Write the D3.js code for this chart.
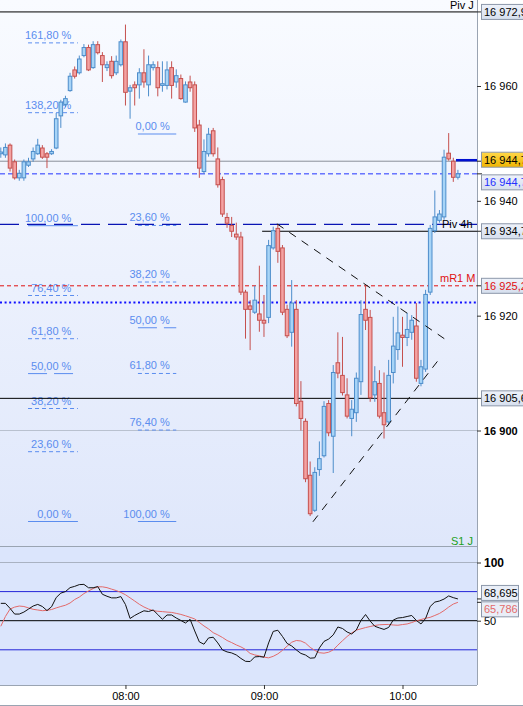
<!DOCTYPE html>
<html><head><meta charset="utf-8">
<script src="https://cdn.jsdelivr.net/npm/d3@7/dist/d3.min.js"></script>
<style>
body{margin:0;background:#fff}
svg{display:block}
text{font-family:"Liberation Sans",Arial,sans-serif;font-size:11px}
</style>
</head><body>
<svg id="chart" width="523" height="706"></svg>
<script>
// ---------------- DATA ----------------
const startTime = "07:06";      // first 2-minute candle
const candleMinutes = 2;
const opens  = [16948.2,16948.0,16949.7,16946.8,16944.0,16944.0,16946.2,16947.3,16948.2,16949.2,
                16948.2,16948.2,16949.2,16954.8,16956.8,16959.2,16962.8,16962.3,16965.3,16966.7,
                16963.2,16967.2,16965.3,16963.2,16964.3,16962.3,16963.7,16967.7,16959.1,16960.2,
                16960.2,16962.3,16960.2,16963.2,16963.2,16960.1,16960.1,16963.2,16960.7,16961.3,
                16957.2,16960.7,16960.2,16953.2,16945.1,16948.2,16952.2,16947.3,16943.7,16937.1,
                16935.7,16934.2,16933.7,16924.1,16921.7,16920.6,16920.3,16919.2,16919.7,16931.8,
                16935.2,16931.8,16921.1,16917.1,16921.1,16905.1,16901.6,16892.2,16886.1,16893.2,
                16895.6,16904.7,16899.0,16911.8,16909.6,16906.2,16902.1,16903.1,16908.5,16921.1,
                16919.7,16906.2,16908.2,16903.1,16901.5,16910.1,16914.1,16916.6,16916.2,16917.1,
                16918.2,16908.2,16910.7,16924.1,16934.8,16936.6,16937.2,16948.3,16946.9,16944.1];
const highs  = [16949.3,16950.0,16950.0,16947.2,16945.4,16947.2,16947.5,16949.3,16950.8,16949.7,
                16948.5,16949.0,16955.3,16957.6,16958.3,16962.3,16963.4,16965.3,16967.3,16967.2,
                16967.8,16967.8,16965.9,16964.3,16965.2,16965.3,16968.1,16970.7,16960.2,16960.8,
                16963.1,16966.4,16965.3,16964.3,16964.3,16964.3,16964.3,16964.3,16962.9,16962.0,
                16960.8,16961.8,16960.8,16954.1,16950.7,16952.7,16952.7,16949.3,16944.2,16937.9,
                16937.2,16936.2,16934.6,16924.5,16922.7,16925.2,16928.7,16923.6,16933.2,16935.5,
                16935.9,16932.3,16921.9,16926.2,16922.7,16908.6,16902.1,16894.6,16893.6,16898.1,
                16905.1,16905.3,16911.4,16917.1,16916.3,16909.1,16905.3,16910.1,16922.7,16925.3,
                16921.0,16911.2,16910.5,16910.1,16912.3,16919.8,16921.6,16919.8,16920.5,16920.1,
                16922.2,16912.3,16924.5,16935.8,16941.8,16938.4,16948.9,16951.8,16947.5,16945.4];
const lows   = [16947.5,16947.5,16945.1,16943.7,16943.5,16943.5,16945.9,16946.8,16948.0,16947.3,
                16945.7,16948.0,16949.0,16952.7,16956.3,16959.0,16961.3,16962.0,16965.0,16962.6,
                16963.0,16965.5,16960.7,16962.6,16961.3,16961.9,16963.4,16956.6,16954.3,16956.6,
                16957.8,16959.7,16958.2,16962.7,16958.2,16959.0,16959.4,16957.8,16959.7,16957.6,
                16957.1,16959.0,16952.0,16944.0,16944.7,16947.7,16947.7,16942.3,16937.2,16935.3,
                16933.7,16933.2,16923.6,16916.0,16914.0,16920.3,16917.2,16916.3,16918.7,16931.5,
                16929.2,16920.1,16916.1,16914.6,16904.2,16900.0,16891.0,16885.1,16885.8,16892.1,
                16895.3,16899.0,16892.6,16909.1,16906.1,16902.1,16899.0,16901.5,16906.2,16917.5,
                16905.0,16905.0,16902.1,16898.6,16900.9,16908.2,16912.3,16911.1,16914.7,16915.8,
                16908.5,16907.7,16910.2,16923.6,16934.4,16936.2,16936.7,16947.0,16943.3,16943.7];
const closes = [16948.5,16949.3,16945.7,16944.0,16944.8,16946.8,16946.8,16948.6,16949.7,16947.6,
                16947.6,16948.6,16954.3,16957.2,16957.8,16961.7,16961.7,16964.7,16966.7,16962.8,
                16967.2,16965.8,16963.7,16963.7,16961.8,16964.3,16967.7,16958.9,16959.7,16959.7,
                16962.3,16960.7,16963.7,16963.7,16959.7,16960.4,16962.8,16960.1,16961.8,16957.8,
                16960.2,16959.7,16952.7,16945.7,16948.6,16951.6,16948.2,16942.8,16937.7,16936.1,
                16934.7,16933.7,16924.1,16921.1,16921.1,16922.7,16919.2,16918.7,16932.2,16934.8,
                16931.2,16920.6,16916.5,16922.2,16904.7,16902.1,16891.6,16885.5,16892.7,16895.1,
                16904.2,16899.6,16910.1,16910.0,16906.6,16902.5,16903.7,16909.1,16920.2,16919.2,
                16905.7,16908.5,16902.5,16901.0,16909.6,16914.7,16917.0,16916.2,16917.6,16919.2,
                16909.1,16911.1,16923.7,16935.2,16937.2,16937.7,16947.6,16947.3,16944.1,16944.7];
const rsi    = [64.9,64.9,60.6,55.7,55.7,57.4,60.0,62.6,64.0,62.2,58.7,62.0,69.9,73.7,75.0,78.4,79.5,81.0,81.2,78.3,
                78.3,79.3,72.7,71.0,69.6,69.6,70.7,63.9,51.9,54.5,56.6,58.5,57.9,59.2,55.3,51.2,54.9,54.9,52.3,50.2,
                48.0,51.2,41.2,31.8,29.8,35.2,35.8,30.9,24.9,23.2,22.3,20.6,17.6,15.1,14.9,18.9,19.2,18.7,30.9,40.8,
                41.8,36.5,30.5,28.3,24.9,21.9,20.5,17.8,18.1,26.6,32.2,34.2,37.8,44.6,43.3,40.3,38.6,42.0,50.2,55.3,
                49.7,45.2,43.8,42.5,44.2,50.6,52.3,52.7,53.6,54.5,50.2,47.2,51.9,62.2,66.0,66.9,68.6,71.3,69.8,68.695];
const rsiMA  = [45.2,53.6,60.0,61.7,62.6,62.2,61.0,59.8,59.2,58.6,58.9,59.6,61.0,62.2,63.3,65.2,68.2,70.3,73.3,75.6,
                77.6,79.1,79.1,78.4,77.1,75.9,74.3,72.3,69.6,66.9,64.1,61.8,60.0,58.6,58.1,57.8,57.4,57.1,56.3,55.4,
                54.2,52.9,51.5,48.5,45.5,42.9,39.7,37.8,35.6,33.0,31.2,29.2,27.5,25.3,21.9,20.6,19.8,18.7,18.1,19.4,
                21.5,24.5,28.1,31.5,33.0,32.6,30.7,27.1,24.5,22.5,22.1,22.9,24.9,29.0,32.8,36.4,39.5,41.9,43.0,44.1,
                45.0,45.9,46.5,46.7,46.8,46.3,46.1,46.7,47.2,48.4,49.9,51.0,52.1,52.9,54.5,56.2,58.7,61.7,64.3,65.786];
const priceTicks = [16900, 16920, 16940, 16960];
const rsiTicks = [50, 100];
const rsiBands = [25, 50, 75, 100];
const timeTicks = ["08:00", "09:00", "10:00"];

// horizontal levels
const pivJ = 16972.9, piv4h = 16934.7, mR1M = 16925.2, levelLow = 16905.6;
const lastPrice = 16944.7, orderLevel = 16944.7, markerLevel = 16946.9;
const dashLevel = 16935.9, dotLevel = 16922.3;
// fibonacci tools (anchor candle index range, 0% and 100% prices)
const fibALevels = [0, 23.6, 38.2, 50, 61.8, 76.4, 100, 138.2, 161.8];
const fibA = {from: 5.9, to: 16.7, p0: 16884.15, p100: 16935.67};
const fibBLevels = [0, 23.6, 38.2, 50, 61.8, 76.4, 100];
const fibB = {from: 29.7, to: 38.0, p0: 16951.64, p100: 16884.15};
// trend lines: [candle index, price]
const trendUpper = [[59.8, 16936.0], [96.4, 16915.8]];
const trendLower = [[67.6, 16884.1], [95.1, 16912.6]];

// ---------------- LAYOUT ----------------
const svg = d3.select("#chart");
const plotR = 477, mainB = 546, rsiT = 547, rsiB = 685;
const parseT = d3.timeParse("%H:%M");
const t0 = parseT(startTime);
const tAt = i => new Date(t0.getTime() + i * candleMinutes * 60000);
const x = d3.scaleTime().domain([t0, parseT("10:00")]).range([0.8, 402.5]);
const y = d3.scaleLinear().domain([16900, 16960]).range([430.5, 86]);
const yR = d3.scaleLinear().domain([0, 100]).range([678.9, 562.5]);
const loc = d3.formatLocale({decimal: ",", thousands: " ", grouping: [3], currency: ["", ""]});
const f0 = loc.format(",d"), f1 = loc.format(",.1f"), f2 = loc.format(".2f"), f3 = loc.format(".3f");

const defs = svg.append("defs");
const gr = defs.append("linearGradient").attr("id", "bg").attr("x1", 0).attr("y1", 0).attr("x2", 0).attr("y2", 1);
gr.append("stop").attr("offset", 0).attr("stop-color", "#f9fbff");
gr.append("stop").attr("offset", 1).attr("stop-color", "#dfe7fb");
const gy = defs.append("linearGradient").attr("id", "gold").attr("x1", 0).attr("y1", 0).attr("x2", 0).attr("y2", 1);
gy.append("stop").attr("offset", 0).attr("stop-color", "#ffd84a");
gy.append("stop").attr("offset", 1).attr("stop-color", "#f0b400");
const gb = defs.append("linearGradient").attr("id", "boxbg").attr("x1", 0).attr("y1", 0).attr("x2", 0).attr("y2", 1);
gb.append("stop").attr("offset", 0).attr("stop-color", "#eef2fa");
gb.append("stop").attr("offset", 1).attr("stop-color", "#d6dfee");
defs.append("clipPath").attr("id", "cm").append("rect").attr("x", 0).attr("y", 0).attr("width", plotR).attr("height", mainB);
defs.append("clipPath").attr("id", "cr").append("rect").attr("x", 0).attr("y", rsiT).attr("width", plotR).attr("height", rsiB - rsiT);

svg.append("rect").attr("x", 0).attr("y", 0).attr("width", plotR).attr("height", mainB).attr("fill", "url(#bg)");
svg.append("rect").attr("x", 0).attr("y", rsiT).attr("width", plotR).attr("height", rsiB - rsiT).attr("fill", "#dbe5fc");

const main = svg.append("g").attr("clip-path", "url(#cm)");
const hline = (p, color, w, dash, x1 = 0) => main.append("line").attr("x1", x1).attr("x2", plotR)
  .attr("y1", y(p)).attr("y2", y(p)).attr("stroke", color).attr("stroke-width", w).attr("stroke-dasharray", dash);

// grid line at bold tick
hline(16900, "#b9c1cf", 1, null);
// fibonacci
const fibColor = "#5b8def";
function drawFib(tool, levels) {
  const xa = x(tAt(tool.from)), xb = x(tAt(tool.to));
  levels.forEach(l => {
    const py = y(tool.p0 + (tool.p100 - tool.p0) * l / 100);
    const dash = (l === 0 || l === 100) ? null : (l === 50 ? "19,7" : "4,3");
    main.append("line").attr("x1", xa).attr("x2", xb).attr("y1", py).attr("y2", py)
      .attr("stroke", fibColor).attr("stroke-width", 1).attr("stroke-dasharray", dash);
    main.append("text").attr("x", xb - 6.5).attr("y", py - 4).attr("text-anchor", "end")
      .attr("fill", fibColor).text(f2(l) + " %");
  });
}
drawFib(fibA, fibALevels);
drawFib(fibB, fibBLevels);

// horizontal lines
hline(pivJ, "#000", 1, null);
hline(markerLevel, "#8a8f99", 1, null);
hline(orderLevel, "#2233ff", 1, "5,3");
hline(dashLevel, "#0a14b4", 1.2, "19,8");
hline(piv4h, "#000", 1, null, x(tAt(56.6)));
hline(mR1M, "#e01010", 1, "4,3");
hline(dotLevel, "#1010ff", 2, "2,2.6");
hline(levelLow, "#000", 1, null);

// candles
const cw = 3.6;
const candles = main.append("g");
closes.forEach((c, i) => {
  const o = opens[i], up = c >= o;
  const cx = x(tAt(i));
  const stroke = up ? "#4d8dcb" : "#c5504e", fill = up ? "#a7d4f7" : "#f4a2a2";
  candles.append("line").attr("x1", cx).attr("x2", cx).attr("y1", y(highs[i])).attr("y2", y(lows[i]))
    .attr("stroke", stroke).attr("stroke-width", 1);
  const top = y(Math.max(o, c)), bot = y(Math.min(o, c));
  candles.append("rect").attr("x", cx - cw / 2).attr("y", top).attr("width", cw).attr("height", Math.max(bot - top, 1))
    .attr("fill", fill).attr("stroke", stroke).attr("stroke-width", 1);
});

// trend lines
const tl = d3.line().x(d => x(tAt(d[0]))).y(d => y(d[1]));
[trendUpper, trendLower].forEach(t => main.append("path").attr("d", tl(t)).attr("fill", "none")
  .attr("stroke", "#111").attr("stroke-width", 1).attr("stroke-dasharray", "8,7"));

// last-price pointer
main.append("line").attr("x1", 456).attr("x2", plotR).attr("y1", y(markerLevel) - 1).attr("y2", y(markerLevel) - 1)
  .attr("stroke", "#0010d0").attr("stroke-width", 2.5);

// level names
main.append("text").attr("x", 450).attr("y", y(pivJ) - 3).attr("fill", "#000").text("Piv J");
main.append("text").attr("x", 442).attr("y", y(piv4h) - 3).attr("fill", "#000").text("Piv 4h");
main.append("text").attr("x", 440).attr("y", y(mR1M) - 4).attr("fill", "#e01010").text("mR1 M");
main.append("text").attr("x", 451).attr("y", mainB - 1).attr("fill", "#22a022").text("S1 J");

// panel borders / axis lines
svg.append("line").attr("x1", 0).attr("x2", plotR).attr("y1", mainB + 0.5).attr("y2", mainB + 0.5).attr("stroke", "#9aa4b2");
svg.append("line").attr("x1", 0).attr("x2", plotR).attr("y1", rsiB + 0.5).attr("y2", rsiB + 0.5).attr("stroke", "#9aa4b2");
svg.append("line").attr("x1", 0).attr("x2", 523).attr("y1", 705.5).attr("y2", 705.5).attr("stroke", "#9aa4b2");
svg.append("line").attr("x1", plotR + 0.5).attr("x2", plotR + 0.5).attr("y1", 0).attr("y2", rsiB).attr("stroke", "#9aa4b2");

// price axis
const ya = svg.append("g").attr("transform", `translate(${plotR},0)`)
  .call(d3.axisRight(y).tickValues(priceTicks).tickSize(4).tickPadding(3).tickFormat(f0));
ya.select(".domain").remove();
ya.selectAll("line").attr("stroke", "#333");
ya.selectAll("text").attr("fill", "#000").style("font-size", "11px").style("font-family", '"Liberation Sans",Arial,sans-serif')
  .style("font-weight", d => d === 16900 ? "bold" : "normal");

// boxed labels
function box(cy, ly, text, color, fill, w) {
  svg.append("line").attr("x1", plotR).attr("x2", 482).attr("y1", ly).attr("y2", ly).attr("stroke", "#222");
  svg.append("rect").attr("x", 481.5).attr("y", cy - 7.5).attr("width", w).attr("height", 15)
    .attr("fill", fill).attr("stroke", "#8d98aa");
  svg.append("text").attr("x", 484).attr("y", cy + 4).attr("fill", color).text(text);
}
box(y(pivJ), y(pivJ), f1(pivJ), "#000", "url(#boxbg)", 60);
box(y(markerLevel) - 1.5, y(markerLevel), f1(lastPrice), "#000", "url(#gold)", 60);
box(y(orderLevel) + 8.5, y(orderLevel), f1(orderLevel), "#2430ff", "url(#boxbg)", 60);
box(y(piv4h), y(piv4h), f1(piv4h), "#000", "url(#boxbg)", 60);
box(y(mR1M), y(mR1M), f1(mR1M), "#e01010", "url(#boxbg)", 60);
box(y(levelLow), y(levelLow), f1(levelLow), "#000", "url(#boxbg)", 60);

// RSI panel
const rp = svg.append("g").attr("clip-path", "url(#cr)");
rsiBands.forEach(b => rp.append("line").attr("x1", 0).attr("x2", plotR).attr("y1", yR(b)).attr("y2", yR(b))
  .attr("stroke", b === 100 ? "#a9b2c2" : (b === 50 ? "#000" : "#2424d8")).attr("stroke-width", 1));
const rl = d3.line().x((d, i) => x(tAt(i))).y(d => yR(d));
rp.append("path").attr("d", rl(rsiMA)).attr("fill", "none").attr("stroke", "#e36a6a").attr("stroke-width", 1);
rp.append("path").attr("d", rl(rsi)).attr("fill", "none").attr("stroke", "#111").attr("stroke-width", 1);

const ra = svg.append("g").attr("transform", `translate(${plotR},0)`)
  .call(d3.axisRight(yR).tickValues(rsiTicks).tickSize(4).tickPadding(3).tickFormat(d3.format("d")));
ra.select(".domain").remove();
ra.selectAll("line").attr("stroke", "#333");
ra.selectAll("text").attr("fill", "#000").style("font-size", d => d === 100 ? "12px" : "11px")
  .style("font-family", '"Liberation Sans",Arial,sans-serif').style("font-weight", d => d === 100 ? "bold" : "normal");
const lastR = rsi[rsi.length - 1], lastM = rsiMA[rsiMA.length - 1];
box(yR(lastR) - 6, yR(lastR), f3(lastR), "#000", "#e9eef7", 37);
box(yR(lastM) + 7, yR(lastM), f3(lastM), "#e36a6a", "#e9eef7", 37);

// time axis
const xa = svg.append("g").attr("transform", `translate(0,${rsiB})`)
  .call(d3.axisBottom(x).tickValues(timeTicks.map(parseT)).tickSize(4).tickPadding(3).tickFormat(d3.timeFormat("%H:%M")));
xa.select(".domain").remove();
xa.selectAll("line").attr("stroke", "#333");
xa.selectAll("text").attr("fill", "#000").style("font-size", "11px").style("font-family", '"Liberation Sans",Arial,sans-serif');
</script>
</body></html>
